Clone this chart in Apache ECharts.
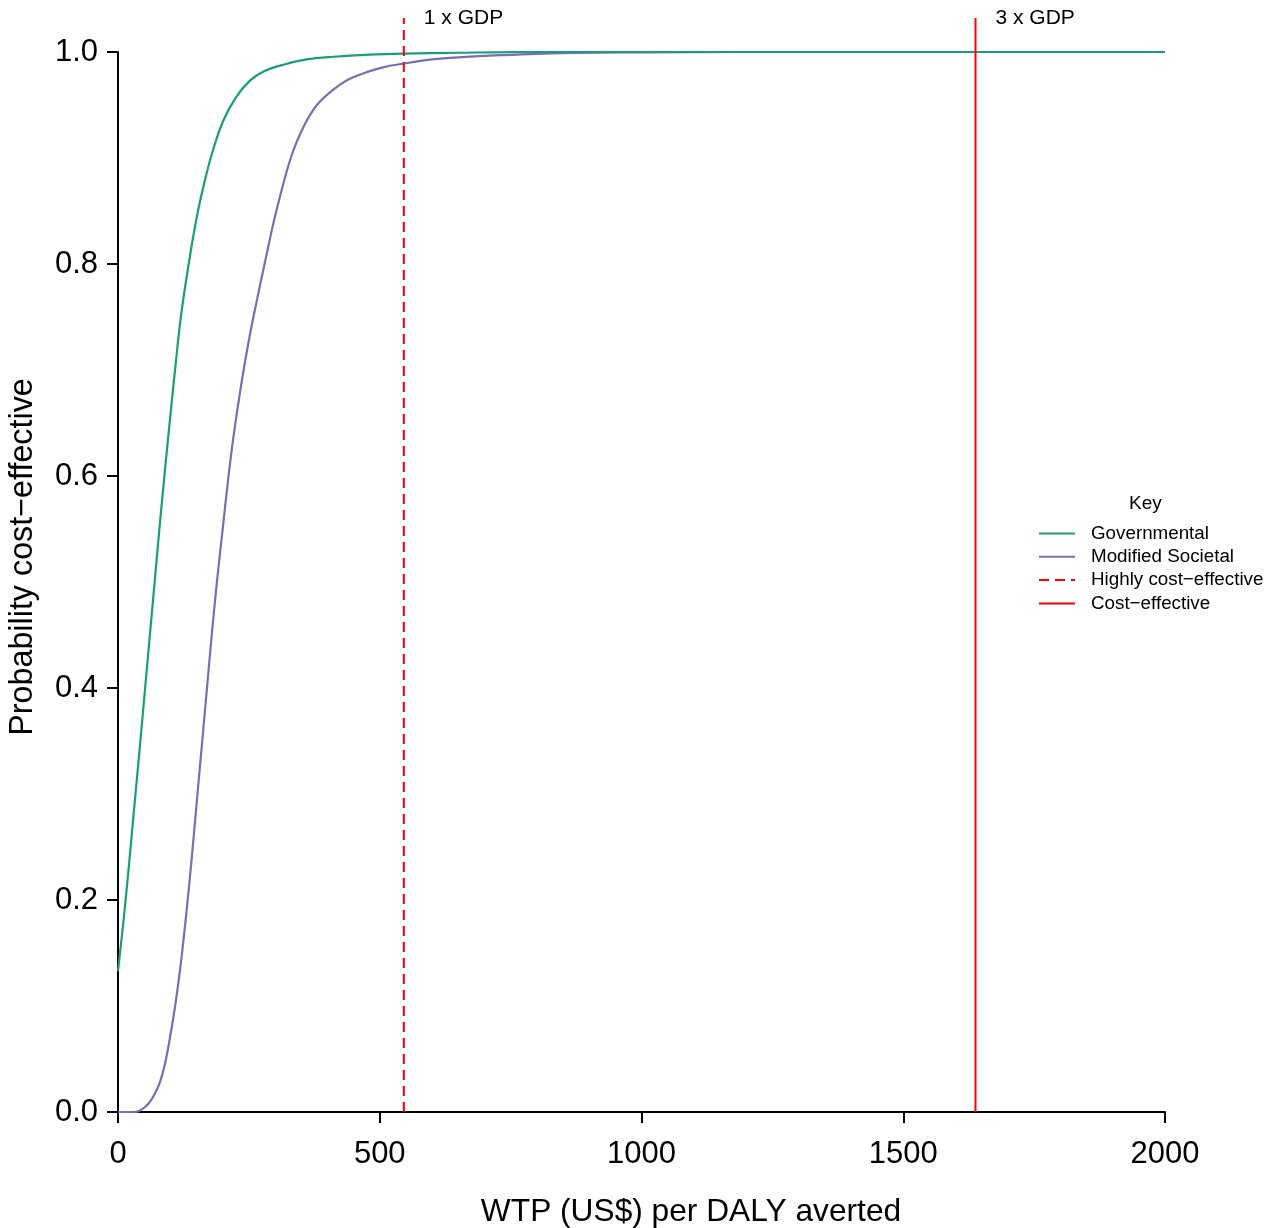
<!DOCTYPE html>
<html>
<head>
<meta charset="utf-8">
<script src="https://cdn.jsdelivr.net/npm/echarts@6/dist/echarts.min.js"></script>
<style>
html,body{margin:0;padding:0;background:#fff;}
#chart{width:1264px;height:1228px;}
</style>
</head>
<body>
<div id="chart"></div>
<script>
// ---- Data ----
const govWTP  = [0,10,20,30,40,50,60,70,80,90,100,110,120,135,150,165,180,200,225,252,280,316,360,412,480,545,650,800,2000];
const govProb = [0.133,0.178,0.228,0.282,0.335,0.39,0.445,0.5,0.555,0.607,0.657,0.705,0.75,0.8,0.843,0.877,0.905,0.934,0.957,0.973,0.982,0.988,0.993,0.9955,0.9975,0.9985,0.9993,1,1];

const socWTP  = [0,30,40,50,60,70,80,90,100,110,120,130,140,150,160,170,180,190,200,210,220,235,250,265,280,300,330,355,380,410,440,475,510,545,600,650,730,850,1000,1200,2000];
const socProb = [0,0,0.001,0.004,0.009,0.017,0.028,0.046,0.072,0.103,0.14,0.185,0.235,0.29,0.345,0.4,0.455,0.505,0.55,0.595,0.635,0.685,0.728,0.765,0.8,0.845,0.9,0.93,0.95,0.964,0.974,0.981,0.986,0.989,0.993,0.995,0.997,0.999,0.9997,1,1];

const gdpThresholds = [546, 1638];          // 1 x GDP, 3 x GDP
const thresholdTop = 1.032;                 // top of the threshold lines
const gdpLabels = ['1 x GDP', '3 x GDP'];
const seriesNames = ['Governmental', 'Modified Societal', 'Highly cost\u2212effective', 'Cost\u2212effective'];
const xTicks = [0, 500, 1000, 1500, 2000];

const zip = (xs, ys) => xs.map((x, i) => [x, ys[i]]);

const FONT = 'Liberation Sans, Arial, Helvetica, sans-serif';
const chart = echarts.init(document.getElementById('chart'), null, {renderer: 'canvas'});

const option = {
  animation: false,
  backgroundColor: '#ffffff',
  textStyle: {fontFamily: FONT},
  title: {
    text: 'Key', left: 1124, top: 489,
    textStyle: {fontFamily: FONT, fontSize: 19, fontWeight: 'normal', color: '#000'}
  },
  legend: {
    orient: 'vertical', left: 1033, top: 519,
    itemWidth: 36, itemHeight: 14, itemGap: 4.3,
    data: seriesNames,
    itemStyle: {color: 'transparent', borderWidth: 0, opacity: 0},
    textStyle: {fontFamily: FONT, fontSize: 18.8, color: '#000', padding: [0, 0, 0, 11]}
  },
  grid: {left: 118, right: 99, top: 52, bottom: 116, containLabel: false, outerBoundsMode: 'none'},
  xAxis: {
    type: 'value', min: 0, max: 2000, interval: 500,
    name: 'WTP (US$) per DALY averted', nameLocation: 'middle', nameGap: 84,
    nameTextStyle: {fontFamily: FONT, fontSize: 31.7, color: '#000', padding: [0, 0, 0, 99]},
    axisLine: {show: true, lineStyle: {color: '#000', width: 2}},
    axisTick: {show: true, inside: false, length: 11, lineStyle: {color: '#000', width: 2}},
    axisLabel: {fontFamily: FONT, fontSize: 31, color: '#000', margin: 27,
      customValues: xTicks, formatter: v => String(v)},
    splitLine: {show: false}
  },
  yAxis: {
    type: 'value', min: 0, max: 1, interval: 0.2,
    name: 'Probability cost\u2212effective', nameLocation: 'middle', nameGap: 79,
    nameTextStyle: {fontFamily: FONT, fontSize: 32.3, color: '#000', padding: [0, 0, 0, 50]},
    axisLine: {show: true, lineStyle: {color: '#000', width: 2}},
    axisTick: {show: true, inside: false, length: 11, lineStyle: {color: '#000', width: 2}},
    axisLabel: {fontFamily: FONT, fontSize: 31, color: '#000', margin: 20,
      formatter: v => v.toFixed(1)},
    splitLine: {show: false}
  },
  series: [
    {
      name: seriesNames[0], type: 'line', data: zip(govWTP, govProb),
      showSymbol: false, symbol: 'none', smooth: 0.35,
      lineStyle: {color: '#1b9e77', width: 2.2}, itemStyle: {color: '#1b9e77'}, z: 4
    },
    {
      name: seriesNames[1], type: 'line', data: zip(socWTP, socProb),
      showSymbol: false, symbol: 'none', smooth: 0.35,
      lineStyle: {color: '#7570b3', width: 2.2}, itemStyle: {color: '#7570b3'}, z: 3
    },
    {
      name: seriesNames[2], type: 'line', clip: false,
      data: [[gdpThresholds[0], 0], [gdpThresholds[0], thresholdTop]],
      showSymbol: false, symbol: 'none',
      lineStyle: {color: '#ff0000', width: 2, type: [10, 6]}, itemStyle: {color: '#ff0000'}, z: 5
    },
    {
      name: seriesNames[3], type: 'line', clip: false,
      data: [[gdpThresholds[1], 0], [gdpThresholds[1], thresholdTop]],
      showSymbol: false, symbol: 'none',
      lineStyle: {color: '#ff0000', width: 2}, itemStyle: {color: '#ff0000'}, z: 5
    },
    {
      name: 'gdpLabels', type: 'scatter', clip: false, symbolSize: 0, silent: true,
      data: gdpThresholds.map((x, i) => ({value: [x, thresholdTop], name: gdpLabels[i]})),
      label: {show: true, position: 'right', distance: 20, formatter: p => p.name,
        fontFamily: FONT, fontSize: 21, color: '#000000', opacity: 1}
    }
  ]
};
chart.setOption(option);
</script>
</body>
</html>
